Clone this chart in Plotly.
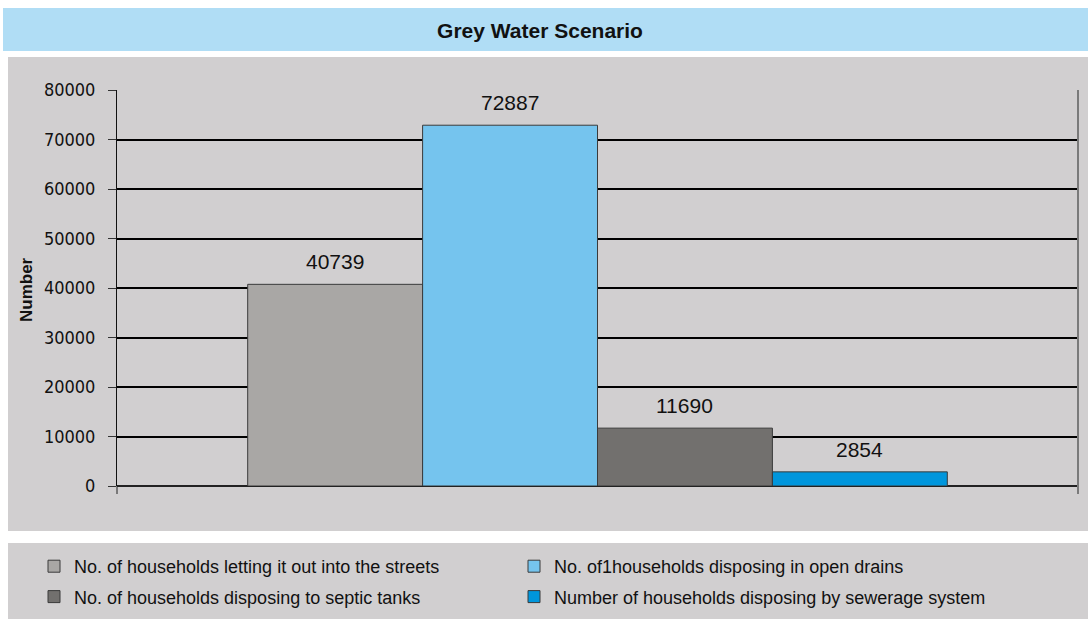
import plotly.graph_objects as go

series_names = [
    "No. of households letting it out into the streets",
    "No. of1households disposing in open drains",
    "No. of households disposing to septic tanks",
    "Number of households disposing by sewerage system",
]
values = [40739, 72887, 11690, 2854]
colors = ["#A9A7A5", "#75C4EE", "#72706E", "#0096DC"]
legend_ids = ["legend", "legend2", "legend", "legend2"]
y_ticks = [0, 10000, 20000, 30000, 40000, 50000, 60000, 70000, 80000]
category = "Grey Water"
y_title = "Number"

W, H = 1088, 619
L, R, T, B = 117, 1078, 90, 486
pw, ph = R - L, B - T
BARGAP = 0.272

def px(x):
    return (x - L) / pw

def py(y):
    return 1 - (y - T) / ph

def cx(x):
    return x / W

def cy(y):
    return 1 - y / H

fig = go.Figure()
for i, (name, v, c, lg) in enumerate(zip(series_names, values, colors, legend_ids)):
    fig.add_trace(go.Bar(
        x=[category], y=[v], name=name,
        marker=dict(color=c, line=dict(color="#3a3a3a", width=1)),
        legend=lg, legendgroup="g%d" % i,
    ))

n = len(values)
bw = (1 - BARGAP) / n
annotations = []
for i, v in enumerate(values):
    annotations.append(dict(
        x=(i - (n - 1) / 2) * bw, y=v, xref="x", yref="y",
        text=str(v), showarrow=False, yanchor="bottom", yshift=9,
        font=dict(family="Liberation Sans, Arial, sans-serif", size=21, color="#111"),
    ))
annotations.append(dict(
    x=px(26), y=py(290), xref="paper", yref="paper", text="<b>%s</b>" % y_title,
    showarrow=False, textangle=-90, xanchor="center", yanchor="middle",
    font=dict(size=17, family="Liberation Sans Narrow, Liberation Sans, sans-serif", color="#111"),
))

shapes = [
    dict(type="rect", xref="paper", yref="paper", x0=px(3), x1=px(1088), y0=py(51), y1=py(8),
         fillcolor="#B0DDF5", line=dict(width=0), layer="below"),
    dict(type="rect", xref="paper", yref="paper", x0=px(8), x1=px(1088), y0=py(531), y1=py(57),
         fillcolor="#D1CFD0", line=dict(width=0), layer="below"),
    dict(type="rect", xref="paper", yref="paper", x0=px(8), x1=px(1088), y0=py(619), y1=py(543),
         fillcolor="#D1CFD0", line=dict(width=0), layer="below"),
    dict(type="line", xref="paper", yref="paper", x0=1, x1=1, y0=py(494), y1=1,
         line=dict(color="#7a7a7a", width=2)),
    dict(type="line", xref="paper", yref="paper", x0=0, x1=0, y0=py(494), y1=0,
         line=dict(color="#222", width=1)),
]

fig.update_layout(
    width=W, height=H,
    margin=dict(l=L, r=W - R, t=T, b=H - B, autoexpand=False),
    paper_bgcolor="white",
    plot_bgcolor="#D1CFD0",
    barmode="group", bargap=BARGAP, bargroupgap=0,
    showlegend=True,
    title=dict(text="<b>Grey Water Scenario</b>", x=px(540), xref="paper", xanchor="center",
               y=1 - 31 / H, yanchor="middle",
               font=dict(family="Liberation Sans Narrow, Liberation Sans, Arial, sans-serif", size=21, color="#111")),
    font=dict(family="Liberation Sans Narrow, Liberation Sans, Arial, sans-serif", color="#111"),
    xaxis=dict(showticklabels=False, showgrid=False, zeroline=False, showline=False, ticks="",
               range=[-0.5, 0.5]),
    yaxis=dict(range=[0, 80000], tickvals=y_ticks, ticktext=[str(t) for t in y_ticks],
               showgrid=True, gridcolor="#000", gridwidth=2,
               showline=True, linecolor="#111", linewidth=1,
               ticks="outside", ticklen=8, tickcolor="#333", tickwidth=1,
               ticklabelstandoff=9,
               zeroline=True, zerolinecolor="#222", zerolinewidth=2,
               tickfont=dict(size=18, family="DejaVu Sans Condensed, Liberation Sans Narrow, sans-serif")),
    legend=dict(x=cx(34), y=cy(548), xref="container", yref="container",
                xanchor="left", yanchor="top", orientation="v",
                bgcolor="rgba(0,0,0,0)", font=dict(size=18), tracegroupgap=4,
                itemwidth=30),
    legend2=dict(x=cx(514), y=cy(548), xref="container", yref="container",
                 xanchor="left", yanchor="top", orientation="v",
                 bgcolor="rgba(0,0,0,0)", font=dict(size=18), tracegroupgap=4,
                 itemwidth=30),
    shapes=shapes,
    annotations=annotations,
)

post = (
    "document.body.style.margin='0';"
    "document.body.style.overflow='hidden';"
)
fig.write_html("out.html", config={"displayModeBar": False}, post_script=post)
